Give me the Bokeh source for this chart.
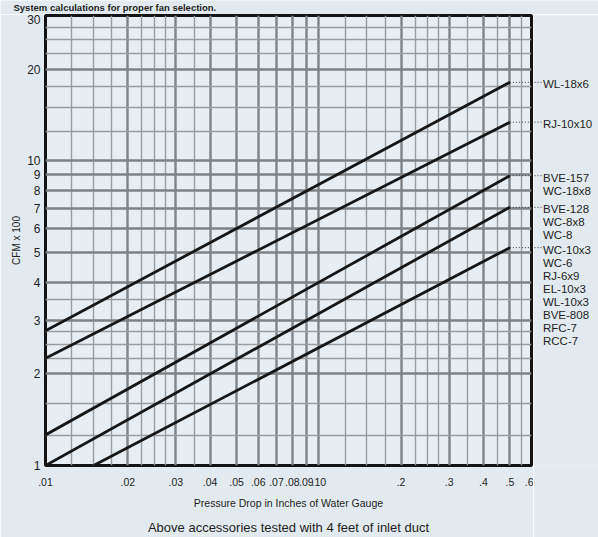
import math
from bokeh.plotting import figure
from bokeh.layouts import row, column
from bokeh.models import FixedTicker, Range1d, LogAxis, ColumnDataSource
from bokeh.core.properties import value
from bokeh.embed import file_html
from bokeh.resources import INLINE

# ---------------- data ----------------
X_MAJOR = [0.01, 0.02, 0.03, 0.04, 0.05, 0.06, 0.07, 0.08, 0.09, 0.1, 0.2, 0.3, 0.4, 0.5, 0.6]
X_LABELS = [".01", ".02", ".03", ".04", ".05", ".06", ".07", ".08", ".09", ".10", ".2", ".3", ".4", ".5", ".6"]
X_MINOR = [0.0125, 0.015, 0.0175, 0.0225, 0.025, 0.0275, 0.035,
           0.125, 0.15, 0.175, 0.225, 0.25, 0.275, 0.35, 0.45, 0.55]
Y_MAJOR = [1, 2, 3, 4, 5, 6, 7, 8, 9, 10, 20, 30]
Y_LABELS = ["1", "2", "3", "4", "5", "6", "7", "8", "9", "10", "20", "30"]
Y_MINOR = [1.25, 1.6, 2.25, 2.5, 2.75, 3.5, 12.5, 15, 17.5, 22.5, 25, 27.5]

p_start = [0.01, 0.01, 0.01, 0.01, 0.015]
cfm_start = [2.77, 2.25, 1.26, 1.0, 1.0]
p_end = [0.5, 0.5, 0.5, 0.5, 0.5]
cfm_end = [18.1, 13.4, 8.94, 7.04, 5.19]
label_groups = [
    ["WL-18x6"],
    ["RJ-10x10"],
    ["BVE-157", "WC-18x8"],
    ["BVE-128", "WC-8x8", "WC-8"],
    ["WC-10x3", "WC-6", "RJ-6x9", "EL-10x3", "WL-10x3", "BVE-808", "RFC-7", "RCC-7"],
]
TITLE = "System calculations for proper fan selection."
X_TITLE = "Pressure Drop in Inches of Water Gauge"
Y_TITLE = "CFM x 100"
NOTE = "Above accessories tested with 4 feet of inlet duct"

# ---------------- layout ----------------
W, H = 598, 537
TH = 14                      # strip for the title
MAIN_W = 533                 # main figure width (frame ends at 531)
SIDE_W = W - MAIN_W
FL, FR = 45, 531             # frame left/right (page px)
FT, FB = 15, 467             # frame top/bottom (page px)
PPD = (FR - FL) / math.log10(X_MAJOR[-1] / X_MAJOR[0])   # px per decade on x
FONT = "Liberation Sans"
TXT = "#1e1e1e"
BG = "#e3eaef"

# title strip
t = figure(width=W, height=TH, x_range=Range1d(0, W), y_range=Range1d(0, TH),
           output_backend="svg", toolbar_location=None, min_border=0,
           x_axis_location=None, y_axis_location=None)
t.outline_line_color = None
t.background_fill_color = BG
t.border_fill_color = BG
t.xgrid.visible = False
t.ygrid.visible = False
t.text(x=[13], y=[TH / 2], text=[TITLE], text_font=value(FONT), text_font_size=value("9.5px"),
       text_font_style="bold", text_color=TXT, text_baseline="middle", text_align="left")

# main chart
p = figure(width=MAIN_W, height=H - TH, x_axis_type="log", y_axis_type="log",
           x_range=Range1d(X_MAJOR[0], X_MAJOR[-1]), y_range=Range1d(Y_MAJOR[0], Y_MAJOR[-1]),
           output_backend="svg", toolbar_location=None,
           min_border_left=FL, min_border_right=MAIN_W - FR,
           min_border_top=FT - TH, min_border_bottom=H - FB)
p.background_fill_color = "#e7eef3"
p.border_fill_color = BG
p.outline_line_color = "#141414"
p.outline_line_width = 3

p.xgrid.ticker = FixedTicker(ticks=X_MAJOR, minor_ticks=X_MINOR)
p.ygrid.ticker = FixedTicker(ticks=Y_MAJOR, minor_ticks=Y_MINOR)
for g in (p.xgrid, p.ygrid):
    g.grid_line_color = "#7f8386"
    g.grid_line_width = 2.4
    g.minor_grid_line_color = "#999da0"
    g.minor_grid_line_width = 1.4

p.xaxis.ticker = FixedTicker(ticks=X_MAJOR)
p.yaxis.ticker = FixedTicker(ticks=Y_MAJOR)
p.xaxis.major_label_overrides = {v: s for v, s in zip(X_MAJOR, X_LABELS)}
p.yaxis.major_label_overrides = {v: s for v, s in zip(Y_MAJOR, Y_LABELS)}
for ax in (p.xaxis, p.yaxis):
    ax.axis_line_color = None
    ax.major_tick_line_color = None
    ax.minor_tick_line_color = None
    ax.major_tick_out = 0
    ax.minor_tick_out = 0
    ax.major_label_text_font = FONT
    ax.major_label_text_color = TXT
    ax.axis_label_text_font = FONT
    ax.axis_label_text_font_style = "normal"
    ax.axis_label_text_color = TXT
p.xaxis.major_label_text_font_size = "10.5px"
p.yaxis.major_label_text_font_size = "12px"
p.xaxis.major_label_standoff = 12
p.yaxis.major_label_standoff = 5
p.xaxis.axis_label = X_TITLE
p.xaxis.axis_label_text_font_size = "10.5px"
p.xaxis.axis_label_standoff = 8
p.yaxis.axis_label = Y_TITLE
p.yaxis.axis_label_text_font_size = "10px"
p.yaxis.axis_label_standoff = 2

note_axis = LogAxis(ticker=FixedTicker(ticks=[]), axis_label=NOTE,
                    axis_line_color=None, major_tick_line_color=None, minor_tick_line_color=None,
                    major_tick_out=0, minor_tick_out=0, major_label_standoff=0,
                    axis_label_standoff=8, axis_label_text_font=FONT,
                    axis_label_text_font_size="13px", axis_label_text_font_style="normal",
                    axis_label_text_color=TXT)
p.add_layout(note_axis, "below")

p.segment(x0=p_start, y0=cfm_start, x1=p_end, y1=cfm_end, line_color="#161616", line_width=2.8)

# side strip for leaders and labels (continues the x scale, shares y)
s = figure(width=SIDE_W, height=H - TH, x_axis_type="log", y_axis_type="log",
           x_range=Range1d(X_MAJOR[-1] * 10 ** ((MAIN_W - FR) / PPD),
                           X_MAJOR[-1] * 10 ** ((W - FR) / PPD)),
           y_range=p.y_range, output_backend="svg", toolbar_location=None,
           min_border_left=0, min_border_right=0,
           min_border_top=FT - TH, min_border_bottom=H - FB,
           x_axis_location=None, y_axis_location=None)
s.outline_line_color = None
s.background_fill_color = BG
s.border_fill_color = BG
s.xgrid.visible = False
s.ygrid.visible = False

lead_end = X_MAJOR[-1] * 10 ** (10 / PPD)
n = len(cfm_end)
p.segment(x0=p_end, y0=cfm_end, x1=[X_MAJOR[-1]] * n, y1=cfm_end,
          line_color="#333333", line_width=1, line_dash="1 2")
s.segment(x0=[X_MAJOR[-1]] * n, y0=cfm_end, x1=[lead_end] * n, y1=cfm_end,
          line_color="#333333", line_width=1, line_dash="1 2")

lx, ly, lt, lo = [], [], [], []
for ye, grp in zip(cfm_end, label_groups):
    for k, name in enumerate(grp):
        lx.append(X_MAJOR[-1])
        ly.append(ye)
        lt.append(name)
        lo.append(2 + 13 * k)
src = ColumnDataSource(dict(x=lx, y=ly, text=lt, yo=lo))
s.text(x="x", y="y", text="text", y_offset="yo", x_offset=11.5, source=src,
       text_font=value(FONT), text_font_size=value("11.5px"), text_color=TXT,
       text_baseline="middle", text_align="left")

layout = column(t, row(p, s, spacing=0), spacing=0)
open("out.html", "w").write(file_html(layout, INLINE))
